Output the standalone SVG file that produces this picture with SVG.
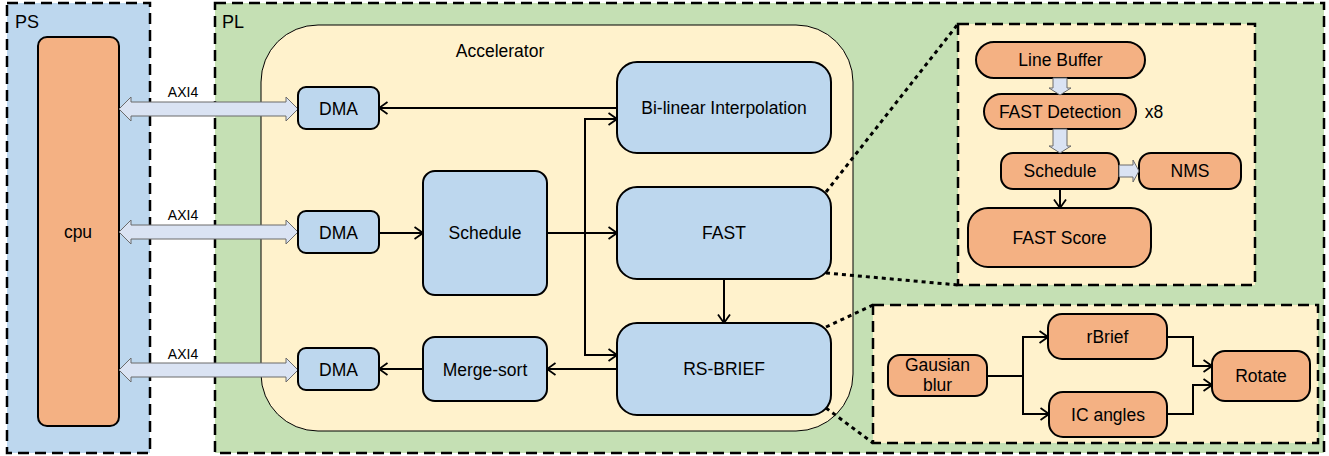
<svg xmlns="http://www.w3.org/2000/svg" width="1329" height="456" viewBox="0 0 1329 456">
<style>
text{font-family:"Liberation Sans",Arial,sans-serif;fill:#000;text-anchor:middle}
.t{font-size:17.5px}
.s{font-size:14px}
.region{stroke:#000;stroke-width:2.5;stroke-dasharray:11 6}
.blue{fill:#BDD7EE;stroke:#000;stroke-width:2}
.org{fill:#F4B183;stroke:#000;stroke-width:2}
.conn{fill:none;stroke:#000;stroke-width:2}
.blk{fill:#DAE3F3;stroke:#6b6b6b;stroke-width:1}
.dot{fill:none;stroke:#000;stroke-width:3;stroke-dasharray:4 4}
</style>
<defs>
<marker id="arr" viewBox="0 0 10 14" refX="9.5" refY="7" markerWidth="10" markerHeight="14" orient="auto" markerUnits="userSpaceOnUse">
<path d="M1,1 L9.5,7 L1,13" fill="none" stroke="#000" stroke-width="1.8"/>
</marker>
</defs>

<g id="ps">
<rect x="7" y="3" width="143" height="450" fill="#BDD7EE" class="region"/>
<text x="15" y="28" style="font-size:18px;text-anchor:start">PS</text>
</g>
<g id="pl">
<rect x="215" y="3" width="1109" height="450" fill="#C5E0B4" class="region"/>
<text x="222" y="28" style="font-size:18px;text-anchor:start">PL</text>
</g>
<g id="accelerator">
<rect x="261" y="25" width="592" height="406" rx="57" fill="#FFF2CC" stroke="#000" stroke-width="1"/>
<text x="500" y="57" class="t">Accelerator</text>
</g>

<g id="cpu">
<rect x="38" y="37" width="81" height="389" rx="9" class="org"/>
<text x="78" y="238" class="t">cpu</text>
</g>

<g id="axi">
<polygon class="blk" points="119,109 131,97 131,102 286,102 286,97 298,109 286,121 286,116 131,116 131,121"/>
<polygon class="blk" points="119,232 131,220 131,225 286,225 286,220 298,232 286,244 286,239 131,239 131,244"/>
<polygon class="blk" points="119,370 131,358 131,363 286,363 286,358 298,370 286,382 286,377 131,377 131,382"/>
<text x="183" y="97" class="s">AXI4</text>
<text x="183" y="220" class="s">AXI4</text>
<text x="183" y="359" class="s">AXI4</text>
</g>

<g id="dma1"><rect x="298" y="87" width="81" height="42" rx="8" class="blue"/><text x="338.5" y="114.5" class="t">DMA</text></g>
<g id="dma2"><rect x="298" y="211" width="81" height="42" rx="8" class="blue"/><text x="338.5" y="238.5" class="t">DMA</text></g>
<g id="dma3"><rect x="298" y="348" width="81" height="42" rx="8" class="blue"/><text x="338.5" y="375.5" class="t">DMA</text></g>
<g id="schedule"><rect x="423" y="171" width="124" height="124" rx="12" class="blue"/><text x="485" y="239" class="t">Schedule</text></g>
<g id="mergesort"><rect x="423" y="337" width="124" height="64" rx="12" class="blue"/><text x="485" y="375.5" class="t">Merge-sort</text></g>
<g id="bilinear"><rect x="617" y="62" width="214" height="91" rx="20" class="blue"/><text x="724" y="114" class="t">Bi-linear Interpolation</text></g>
<g id="fast"><rect x="617" y="187" width="214" height="92" rx="20" class="blue"/><text x="724" y="239" class="t">FAST</text></g>
<g id="rsbrief"><rect x="617" y="323" width="214" height="92" rx="20" class="blue"/><text x="724" y="375" class="t">RS-BRIEF</text></g>

<g id="fast-detail">
<rect x="958" y="24" width="297" height="261" fill="#FFF2CC" class="region"/>
</g>
<g id="linebuffer"><rect x="976" y="42" width="169" height="36" rx="18" class="org"/><text x="1060.5" y="66" class="t">Line Buffer</text></g>
<g id="fastdetection"><rect x="984" y="94" width="152" height="35" rx="17.5" class="org"/><text x="1060" y="117.5" class="t">FAST Detection</text><text x="1154" y="117.5" class="t">x8</text></g>
<g id="schedule2"><rect x="1001" y="153" width="118" height="36" rx="12" class="org"/><text x="1060" y="177" class="t">Schedule</text></g>
<g id="nms"><rect x="1139" y="153" width="102" height="36" rx="12" class="org"/><text x="1190" y="177" class="t">NMS</text></g>
<g id="fastscore"><rect x="968" y="208" width="183" height="59" rx="20" class="org"/><text x="1059.5" y="243.5" class="t">FAST Score</text></g>

<g id="brief-detail">
<rect x="873" y="305" width="445" height="138" fill="#FFF2CC" class="region"/>
</g>
<g id="gausian"><rect x="888" y="355" width="99" height="41" rx="12" class="org"/><text x="937.5" y="371" class="t">Gausian</text><text x="937.5" y="391" class="t">blur</text></g>
<g id="rbrief"><rect x="1048" y="314" width="119" height="45" rx="14" class="org"/><text x="1107.5" y="343" class="t">rBrief</text></g>
<g id="icangles"><rect x="1049" y="392" width="118" height="45" rx="14" class="org"/><text x="1108" y="420.5" class="t">IC angles</text></g>
<g id="rotate"><rect x="1212" y="351" width="98" height="50" rx="13" class="org"/><text x="1261" y="382" class="t">Rotate</text></g>

<g id="connectors">
<path class="conn" d="M617,108 L379,108" marker-end="url(#arr)"/>
<path class="conn" d="M379,233 L423,233" marker-end="url(#arr)"/>
<path class="conn" d="M547,233 L617,233" marker-end="url(#arr)"/>
<path class="conn" d="M585,233 L585,119 L617,119" marker-end="url(#arr)"/>
<path class="conn" d="M585,233 L585,355 L617,355" marker-end="url(#arr)"/>
<path class="conn" d="M724,279 L724,323" marker-end="url(#arr)"/>
<path class="conn" d="M617,369 L547,369" marker-end="url(#arr)"/>
<path class="conn" d="M423,369 L379,369" marker-end="url(#arr)"/>
<path class="conn" d="M1060,189 L1060,208" marker-end="url(#arr)"/>
<path class="conn" d="M987,376 L1023,376"/>
<path class="conn" d="M1023,376 L1023,337 L1048,337" marker-end="url(#arr)"/>
<path class="conn" d="M1023,376 L1023,414 L1049,414" marker-end="url(#arr)"/>
<path class="conn" d="M1167,337 L1193,337 L1193,366 L1212,366" marker-end="url(#arr)"/>
<path class="conn" d="M1167,414 L1193,414 L1193,385 L1212,385" marker-end="url(#arr)"/>
<polygon class="blk" points="1053,78 1067,78 1067,88 1071,88 1060,95 1049,88 1053,88"/>
<polygon class="blk" points="1053,129 1067,129 1067,146 1071,146 1060,153 1049,146 1053,146"/>
<polygon class="blk" points="1119,165 1133,165 1133,160 1139,171 1133,182 1133,177 1119,177"/>
<path class="dot" d="M826,192 L958,24"/>
<path class="dot" d="M826,273 L958,285"/>
<path class="dot" d="M826,327 L873,305"/>
<path class="dot" d="M826,408 L873,443"/>
</g>
</svg>
